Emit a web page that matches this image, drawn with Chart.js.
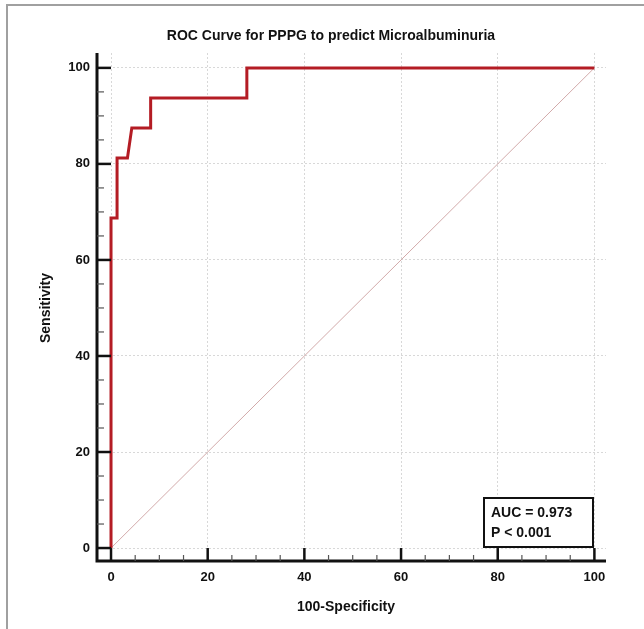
<!DOCTYPE html>
<html>
<head>
<meta charset="utf-8">
<script src="https://cdn.jsdelivr.net/npm/chart.js@4/dist/chart.umd.min.js"></script>
<style>
    html, body { margin: 0; padding: 0; background: #fff; }
    #wrap { width: 644px; height: 629px; }
</style>
</head>
<body>
<div id="wrap"><canvas id="myChart-roc"></canvas></div>
<script>
// ROC curve points (100-Specificity, Sensitivity)
const rocX = [0, 0, 1.25, 1.25, 3.4, 4.3, 8.2, 8.2, 28.1, 28.1, 100];
const rocY = [0, 68.75, 68.75, 81.25, 81.25, 87.5, 87.5, 93.75, 93.75, 100, 100];

// reference diagonal
const diagX = [0, 100];
const diagY = [0, 100];

const tickValues = [0, 20, 40, 60, 80, 100];
const minorStep = 5;

const chartTitle = 'ROC Curve for PPPG to predict Microalbuminuria';
const xTitle = '100-Specificity';
const yTitle = 'Sensitivity';
const aucLines = ['AUC = 0.973', 'P < 0.001'];

const toPoints = (xs, ys) => xs.map((x, i) => ({ x: x, y: ys[i] }));

const allTicks = [];
for (let v = 0; v <= 100; v += minorStep) allTicks.push(v);

const isMajor = (v) => tickValues.includes(v);

const FONT = '"Liberation Sans", Arial, sans-serif';

const decorPlugin = {
    id: 'decor',
    afterDraw(chart) {
        const ctx = chart.ctx;
        const x = chart.scales.x;
        const y = chart.scales.y;
        const area = chart.chartArea;
        const x0 = x.getPixelForValue(0);
        const y0 = y.getPixelForValue(0);

        ctx.save();

        // outer frame
        ctx.strokeStyle = '#a0a0a0';
        ctx.lineWidth = 2;
        ctx.beginPath();
        ctx.moveTo(644, 5);
        ctx.lineTo(7, 5);
        ctx.lineTo(7, 629);
        ctx.stroke();

        // axis lines
        ctx.strokeStyle = '#111';
        ctx.lineWidth = 3;
        ctx.beginPath();
        ctx.moveTo(area.left, area.top);
        ctx.lineTo(area.left, area.bottom);
        ctx.lineTo(area.right, area.bottom);
        ctx.stroke();

        // ticks pointing inward
        allTicks.forEach(v => {
            const major = isMajor(v);
            ctx.lineWidth = major ? 2.5 : 1.2;
            ctx.strokeStyle = major ? '#111' : '#555';
            const py = y.getPixelForValue(v);
            ctx.beginPath();
            ctx.moveTo(area.left, py);
            ctx.lineTo(major ? x0 : area.left + 7, py);
            ctx.stroke();
            const px = x.getPixelForValue(v);
            ctx.beginPath();
            ctx.moveTo(px, area.bottom);
            ctx.lineTo(px, major ? y0 : area.bottom - 6);
            ctx.stroke();
        });

        // titles
        ctx.fillStyle = '#111';
        ctx.font = 'bold 14px ' + FONT;
        ctx.textAlign = 'center';
        ctx.textBaseline = 'alphabetic';
        ctx.fillText(chartTitle, 331, 40);
        ctx.fillText(xTitle, 346, 611);

        ctx.save();
        ctx.translate(46, 308);
        ctx.rotate(-Math.PI / 2);
        ctx.textBaseline = 'middle';
        ctx.fillText(yTitle, 0, 0);
        ctx.restore();

        // AUC box
        ctx.fillStyle = '#fff';
        ctx.fillRect(484, 498, 109, 49);
        ctx.strokeStyle = '#111';
        ctx.lineWidth = 2;
        ctx.strokeRect(484, 498, 109, 49);
        ctx.fillStyle = '#111';
        ctx.textAlign = 'left';
        ctx.textBaseline = 'alphabetic';
        ctx.fillText(aucLines[0], 491, 517);
        ctx.fillText(aucLines[1], 491, 537);

        ctx.restore();
    }
};

const gridColor = (c) => isMajor(c.tick.value) ? 'rgba(212, 212, 212, 0.9)' : 'rgba(0,0,0,0)';

const config = {
    type: 'scatter',
    data: {
        datasets: [
            {
                label: 'ROC',
                data: toPoints(rocX, rocY),
                showLine: true,
                borderColor: 'rgb(180, 28, 36)',
                borderWidth: 3,
                pointRadius: 0,
                fill: false,
                order: 1
            },
            {
                label: 'Reference',
                data: toPoints(diagX, diagY),
                showLine: true,
                borderColor: 'rgb(210, 170, 170)',
                borderWidth: 1,
                pointRadius: 0,
                fill: false,
                order: 2
            }
        ]
    },
    options: {
        responsive: false,
        animation: false,
        layout: {
            padding: { left: 0, top: 53, right: 38, bottom: 0 }
        },
        plugins: {
            legend: { display: false },
            tooltip: { enabled: false }
        },
        scales: {
            x: {
                type: 'linear',
                min: -2.9,
                max: 102.4,
                afterBuildTicks: (scale) => {
                    scale.ticks = allTicks.map(v => ({ value: v }));
                },
                afterFit: (scale) => { scale.height = 68; },
                border: { display: false, dash: [2, 2] },
                grid: {
                    color: gridColor,
                    lineWidth: 1,
                    drawTicks: false
                },
                ticks: {
                    autoSkip: false,
                    maxRotation: 0,
                    padding: 9,
                    color: '#111',
                    font: { family: FONT, size: 13, weight: 'bold' },
                    callback: (v) => isMajor(v) ? v : ''
                }
            },
            y: {
                type: 'linear',
                min: -2.7,
                max: 103.1,
                afterBuildTicks: (scale) => {
                    scale.ticks = allTicks.map(v => ({ value: v }));
                },
                afterFit: (scale) => { scale.width = 97; },
                border: { display: false, dash: [2, 2] },
                grid: {
                    color: gridColor,
                    lineWidth: 1,
                    drawTicks: false
                },
                ticks: {
                    autoSkip: false,
                    padding: 7,
                    color: '#111',
                    font: { family: FONT, size: 13, weight: 'bold' },
                    callback: (v) => isMajor(v) ? v : ''
                }
            }
        }
    },
    plugins: [decorPlugin]
};

const canvas = document.getElementById('myChart-roc');
canvas.width = 644;
canvas.height = 629;
new Chart(canvas.getContext('2d'), config);
</script>
</body>
</html>
